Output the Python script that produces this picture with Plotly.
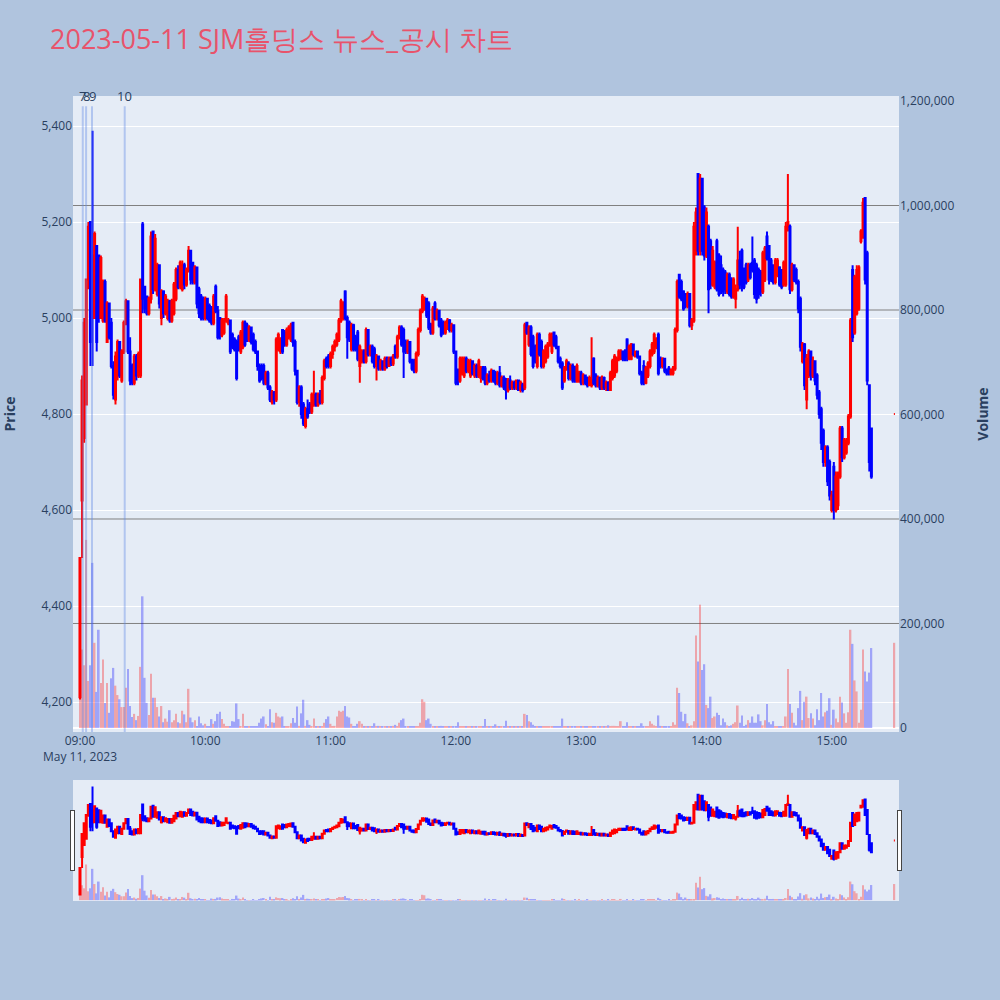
import pandas as pd
import plotly.graph_objects as go

title_text = "2023-05-11 SJM홀딩스 뉴스_공시 차트"

# minute bars 09:00-15:19 plus closing auction 15:30
times = list(pd.date_range("2023-05-11 09:00", periods=380, freq="min")) + [pd.Timestamp("2023-05-11 15:30")]

opens = [
    4210,4620,4750,4820,5080,5200,5130,5000,5150,5130,
    5000,4995,5075,4950,5030,4990,4900,4830,4880,4950,
    4870,4930,4990,5035,4930,4900,4865,4920,4880,4880,
    5195,5065,5045,5010,5040,5180,5060,5050,5110,5000,
    5055,5010,5000,5035,4995,5010,5040,5100,5065,5060,
    5110,5070,5100,5140,5115,5075,5105,5060,5045,5040,
    5000,5040,5025,5020,4990,5065,5015,5000,4965,4970,
    4995,4990,4995,4965,4955,4950,4960,4930,4940,4990,
    4985,4955,4980,4965,4950,4930,4900,4900,4900,4865,
    4885,4855,4825,4845,4830,4935,4930,4975,4970,4945,
    4960,4955,4990,4950,4890,4825,4855,4820,4775,4810,
    4820,4805,4820,4840,4820,4840,4825,4875,4915,4920,
    4900,4925,4940,4945,4955,4995,5000,5055,5000,4990,
    4935,4985,4960,4970,4900,4910,4930,4910,4975,4925,
    4940,4935,4900,4920,4895,4910,4895,4915,4900,4915,
    4905,4940,4920,4960,4980,4975,4950,4930,4950,4910,
    4910,4890,4925,4975,5015,5020,5040,5030,4985,4970,
    5030,5000,5015,4995,4990,4970,4990,4995,4975,4985,
    4930,4890,4870,4885,4880,4915,4890,4880,4910,4880,
    4900,4880,4875,4895,4895,4865,4880,4870,4890,4885,
    4865,4885,4860,4875,4870,4850,4870,4855,4865,4855,
    4870,4850,4860,4855,4990,4945,4980,4960,4940,4900,
    4965,4950,4900,4910,4920,4945,4930,4970,4960,4940,
    4915,4905,4870,4895,4905,4875,4900,4895,4870,4870,
    4885,4865,4880,4875,4860,4860,4915,4880,4860,4875,
    4855,4875,4855,4865,4850,4875,4880,4890,4915,4915,
    4930,4930,4955,4915,4915,4945,4920,4930,4920,4885,
    4900,4865,4880,4900,4925,4930,4940,4965,4915,4900,
    4915,4890,4895,4885,4885,4895,4975,5090,5075,5055,
    5050,5025,5050,4985,4995,5190,5300,5140,5290,5230,
    5130,5190,5160,5070,5065,5160,5130,5110,5100,5095,
    5055,5090,5080,5045,5040,5060,5120,5140,5100,5110,
    5080,5110,5115,5120,5110,5100,5095,5055,5080,5170,
    5150,5120,5110,5075,5090,5105,5100,5070,5070,5190,
    5190,5060,5110,5100,5075,5040,4910,4945,4830,4880,
    4930,4880,4910,4880,4845,4810,4765,4700,4730,4700,
    4600,4690,4600,4610,4670,4770,4710,4720,4740,4795,
    5100,4970,5010,5020,5160,5170,5250,5135,4860,4770,
    4800,
]

highs = [
    4500,4880,5000,5080,5200,5200,5390,5180,5150,5130,
    5130,5080,5080,5035,5030,5000,4910,4930,4955,4950,
    4935,4995,5040,5035,4960,4905,4925,4925,4930,5080,
    5200,5065,5045,5045,5180,5180,5175,5115,5110,5060,
    5058,5050,5040,5038,5040,5075,5105,5110,5120,5120,
    5115,5105,5150,5140,5115,5110,5105,5065,5050,5045,
    5045,5042,5030,5025,5050,5070,5025,5000,5000,5000,
    5050,5000,4995,4970,4960,4955,4965,4975,4995,4995,
    4990,4985,4980,4970,4955,4930,4905,4905,4905,4890,
    4890,4860,4850,4848,4960,4970,4960,4975,4975,4980,
    4985,4990,4990,4955,4890,4860,4860,4825,4815,4830,
    4825,4845,4890,4845,4845,4850,4880,4915,4920,4925,
    4930,4945,4955,4970,5000,5040,5035,5058,5005,4995,
    4990,4988,4965,4975,4945,4935,4935,4980,4975,4945,
    4945,4940,4925,4920,4915,4912,4920,4920,4920,4920,
    4925,4945,4965,4985,4985,4980,4955,4955,4952,4915,
    4915,4930,4980,5020,5050,5045,5042,5035,4990,5025,
    5035,5020,5015,5000,4995,4995,5000,4998,4990,4985,
    4930,4895,4920,4920,4920,4920,4915,4915,4912,4905,
    4905,4915,4900,4900,4900,4885,4890,4895,4892,4890,
    4890,4900,4880,4880,4875,4875,4880,4870,4870,4872,
    4872,4870,4865,4990,4990,4985,4985,4965,4945,4970,
    4970,4955,4935,4945,4950,4970,4970,4972,4965,4940,
    4920,4910,4900,4915,4910,4905,4905,4900,4905,4890,
    4890,4885,4882,4878,4880,4960,4918,4885,4880,4878,
    4880,4878,4870,4868,4890,4915,4925,4920,4935,4935,
    4932,4935,4958,4945,4948,4945,4932,4932,4922,4890,
    4912,4900,4910,4935,4950,4970,4960,4970,4920,4918,
    4915,4895,4900,4895,4900,4980,5080,5090,5080,5058,
    5052,5055,5052,5000,5200,5230,5300,5300,5290,5235,
    5230,5195,5165,5150,5120,5165,5135,5130,5105,5100,
    5095,5095,5085,5085,5070,5190,5140,5145,5105,5115,
    5115,5115,5170,5125,5115,5105,5100,5140,5150,5180,
    5152,5125,5112,5125,5125,5108,5102,5120,5200,5300,
    5195,5115,5112,5105,5080,5045,4950,4948,4925,4935,
    4932,4920,4912,4885,4850,4815,4770,4735,4735,4705,
    4640,4700,4680,4680,4775,4775,4750,4750,4800,5000,
    5110,5090,5110,5110,5185,5250,5250,5140,4860,4770,
    4800,
]

lows = [
    4205,4500,4740,4820,5060,4900,4900,5000,4930,4990,
    5000,4990,4990,4950,4955,4895,4830,4820,4870,4875,
    4865,4925,4985,4925,4860,4860,4860,4870,4875,4875,
    5010,5010,5005,5005,5030,5050,5055,5045,5020,4985,
    5000,5005,4995,4990,4990,5005,5035,5060,5060,5055,
    5060,5065,5095,5070,5070,5070,5020,5000,4995,4995,
    4995,4995,4990,4985,4985,5010,4955,4955,4960,4965,
    4990,4985,4925,4935,4930,4870,4930,4925,4935,4940,
    4950,4950,4945,4930,4925,4890,4865,4870,4860,4860,
    4850,4825,4820,4820,4825,4930,4925,4925,4940,4940,
    4955,4950,4940,4880,4820,4815,4790,4775,4770,4790,
    4800,4800,4815,4815,4815,4820,4820,4870,4895,4895,
    4895,4915,4930,4940,4950,4990,4995,4995,4915,4950,
    4930,4930,4930,4910,4865,4905,4905,4905,4920,4920,
    4905,4895,4870,4890,4890,4890,4890,4895,4898,4900,
    4900,4915,4915,4955,4940,4875,4925,4925,4905,4890,
    4885,4885,4920,4970,5010,5015,5000,4975,4965,4965,
    4995,4995,4980,4960,4965,4965,4975,4970,4970,4925,
    4860,4860,4865,4880,4875,4885,4885,4875,4880,4875,
    4875,4875,4865,4870,4860,4860,4865,4865,4865,4860,
    4860,4855,4855,4850,4830,4845,4850,4850,4850,4850,
    4848,4845,4845,4850,4965,4940,4920,4895,4905,4895,
    4920,4895,4895,4905,4915,4940,4925,4940,4935,4905,
    4895,4850,4865,4890,4870,4870,4865,4865,4865,4865,
    4860,4860,4860,4855,4858,4855,4860,4855,4855,4850,
    4850,4850,4848,4848,4848,4870,4875,4885,4910,4912,
    4910,4910,4910,4912,4912,4920,4918,4915,4880,4860,
    4860,4862,4875,4895,4920,4925,4935,4880,4895,4895,
    4885,4880,4880,4880,4880,4890,4970,5040,5035,5015,
    5020,5020,4980,4975,4990,5130,5130,5130,5130,5120,
    5125,5010,5060,5065,5060,5055,5045,5050,5045,5050,
    5050,5045,5040,5040,5020,5055,5060,5055,5060,5070,
    5075,5080,5095,5040,5030,5040,5045,5050,5075,5120,
    5070,5075,5070,5070,5085,5065,5060,5065,5065,5180,
    5050,5055,5075,5070,5010,4930,4905,4850,4810,4875,
    4870,4875,4860,4830,4790,4725,4690,4690,4650,4620,
    4595,4580,4595,4600,4665,4700,4705,4715,4735,4790,
    4950,4965,5005,5015,5155,5165,5070,4860,4680,4665,
    4800,
]

closes = [
    4500,4870,4990,5080,5190,4950,5000,5175,4950,5000,
    5125,5075,4995,5030,4960,4900,4840,4920,4950,4880,
    4930,4990,5035,4930,4870,4865,4920,4880,4925,5080,
    5040,5020,5010,5040,5170,5060,5165,5110,5030,5055,
    5010,5045,5035,4995,5035,5070,5100,5065,5115,5110,
    5070,5100,5140,5080,5075,5105,5030,5010,5000,5000,
    5040,5000,4995,4990,5045,5015,4960,4965,4995,4995,
    5045,4995,4930,4940,4935,4875,4935,4970,4990,4945,
    4955,4980,4950,4935,4930,4900,4870,4875,4865,4885,
    4855,4830,4845,4830,4955,4965,4955,4930,4945,4975,
    4980,4985,4950,4890,4825,4855,4800,4780,4810,4795,
    4805,4840,4840,4820,4840,4825,4875,4910,4900,4900,
    4925,4940,4950,4965,4995,5035,5030,5000,4960,4955,
    4985,4935,4935,4915,4940,4930,4910,4975,4925,4940,
    4910,4900,4920,4895,4910,4895,4915,4900,4915,4905,
    4920,4920,4960,4980,4945,4930,4930,4950,4910,4895,
    4890,4925,4975,5015,5045,5040,5005,4980,4970,5020,
    5000,5015,4985,4965,4970,4990,4995,4975,4985,4930,
    4865,4870,4915,4915,4915,4890,4910,4910,4885,4900,
    4880,4910,4895,4875,4865,4880,4870,4890,4870,4865,
    4885,4860,4875,4855,4850,4870,4855,4865,4855,4870,
    4850,4865,4850,4985,4970,4980,4925,4900,4910,4965,
    4925,4900,4930,4940,4945,4965,4960,4945,4940,4910,
    4900,4855,4895,4910,4875,4900,4870,4870,4900,4885,
    4865,4880,4865,4860,4875,4870,4865,4860,4875,4855,
    4875,4855,4865,4850,4885,4910,4920,4915,4930,4930,
    4915,4915,4920,4940,4945,4925,4930,4920,4885,4865,
    4865,4895,4905,4930,4945,4965,4955,4885,4900,4915,
    4890,4885,4885,4890,4895,4975,5075,5045,5040,5020,
    5025,5050,4985,4995,5190,5220,5140,5290,5140,5130,
    5220,5060,5070,5140,5115,5060,5050,5060,5055,5060,
    5090,5050,5045,5080,5060,5120,5070,5065,5065,5075,
    5110,5085,5100,5050,5040,5050,5055,5135,5145,5125,
    5080,5080,5075,5120,5120,5070,5065,5115,5190,5200,
    5060,5110,5080,5075,5020,4940,4945,4860,4915,4930,
    4880,4910,4870,4840,4800,4740,4700,4730,4660,4630,
    4630,4600,4670,4675,4770,4710,4745,4745,4795,4995,
    4960,5085,5100,5105,5180,5240,5080,4870,4700,4670,
    4800,
]

volumes_k = [
    268,150,120,360,90,120,316,163,69,188,
    86,131,48,86,29,95,115,81,63,55,
    40,40,77,113,42,21,27,15,23,117,
    252,96,48,25,104,58,58,40,22,42,
    11,18,12,34,11,15,27,11,9,33,
    26,11,75,20,11,15,4,22,9,5,
    8,2,2,17,8,13,27,31,17,8,
    3,3,2,13,12,47,17,3,27,3,
    2,2,2,3,2,2,10,18,22,7,
    2,36,11,10,29,22,20,22,3,3,
    2,9,19,10,41,4,28,54,4,15,
    6,3,18,3,3,2,3,10,17,22,
    8,3,4,22,33,31,33,42,22,20,
    8,2,3,8,13,8,2,4,2,2,
    3,9,2,4,2,2,2,2,2,2,
    4,6,2,10,15,18,3,2,4,3,
    2,2,2,10,55,50,15,18,8,2,
    2,3,3,4,2,2,2,2,2,2,
    2,11,3,2,2,2,2,2,2,2,
    2,2,2,2,17,2,3,2,3,7,
    2,2,2,2,14,2,2,2,2,2,
    2,2,2,27,25,13,11,6,3,2,
    2,2,2,2,2,2,3,4,2,2,
    2,18,3,2,2,2,2,3,2,3,
    2,2,2,3,2,2,2,2,2,2,
    4,2,2,5,2,4,4,2,2,13,
    2,2,11,2,2,3,2,2,2,9,
    3,2,3,13,8,5,2,24,4,2,
    2,2,4,2,11,6,77,67,31,13,
    27,9,3,5,13,177,127,236,111,122,
    44,38,60,19,22,29,25,5,18,11,
    5,3,5,8,11,43,10,24,3,6,
    15,10,22,10,10,26,13,5,15,46,
    11,7,13,3,3,3,3,3,22,113,
    46,29,10,5,38,71,15,50,60,19,
    28,18,5,36,15,67,22,30,33,57,
    6,35,18,11,60,49,28,10,30,188,
    161,91,70,10,35,150,108,89,106,153,
    163,
]
volumes = [v * 1000 for v in volumes_k]

news_labels = ["7", "8", "9", "10"]
news_times = ["2023-05-11 09:01:20", "2023-05-11 09:02:55",
              "2023-05-11 09:05:45", "2023-05-11 09:21:25"]

volume_grid = [200000, 400000, 600000, 800000, 1000000]

prev = [opens[0]] + closes[:-1]
bar_colors = []
for o, c, p in zip(opens, closes, prev):
    up = c > o or (c == o and c >= p)
    bar_colors.append("red" if up else "blue")

fig = go.Figure()
fig.add_trace(go.Candlestick(
    x=times, open=opens, high=highs, low=lows, close=closes,
    increasing=dict(line=dict(color="red"), fillcolor="red"),
    decreasing=dict(line=dict(color="blue"), fillcolor="blue"),
    name="Price", showlegend=False,
))
fig.add_trace(go.Bar(
    x=times, y=volumes, yaxis="y2", marker=dict(color=bar_colors, line=dict(width=0)),
    opacity=0.3, name="Volume", showlegend=False,
))

# volume grid lines (gray) below the traces
for v in volume_grid:
    fig.add_shape(type="line", xref="paper", x0=0, x1=1, yref="y2", y0=v, y1=v,
                  line=dict(color="gray", width=1), layer="below")

for t, lab in zip(news_times, news_labels):
    fig.add_shape(type="line", xref="x", yref="paper", x0=t, x1=t, y0=0, y1=0.984,
                  line=dict(color="rgba(100,140,230,0.4)", width=2))
    fig.add_annotation(x=t, y=1, xref="x", yref="paper", text=lab, showarrow=False,
                       yanchor="middle", font=dict(size=13, color="#2a3f5f"))

xr = ["2023-05-11 08:56:39", "2023-05-11 15:32:13"]
fig.update_layout(
    width=1000, height=1000,
    paper_bgcolor="#B0C4DE", plot_bgcolor="#E5ECF6",
    title=dict(text=title_text, font=dict(size=27, color="#E8536B"),
               x=0.05, xanchor="left", y=0.96, yanchor="middle"),
    margin=dict(l=73, r=101, t=96, b=100),
    showlegend=False,
    xaxis=dict(type="date", range=xr, dtick=3600000, tick0="2023-05-11 09:00",
               rangeslider=dict(visible=True, range=xr, bgcolor="#E5ECF6", thickness=0.15)),
    yaxis=dict(title=dict(text="Price", font=dict(size=14, weight="bold"), standoff=22),
               automargin=False, range=[4137.5, 5462.5], dtick=200, tickformat=","),
    yaxis2=dict(title=dict(text="Volume", font=dict(size=14, weight="bold"), standoff=24),
                automargin=False, overlaying="y", side="right", range=[-7700, 1209600],
                dtick=200000, tickformat=",", showgrid=False),
)

fig.write_html("out.html", config={"displayModeBar": False},
               post_script="document.body.style.margin='0';")
